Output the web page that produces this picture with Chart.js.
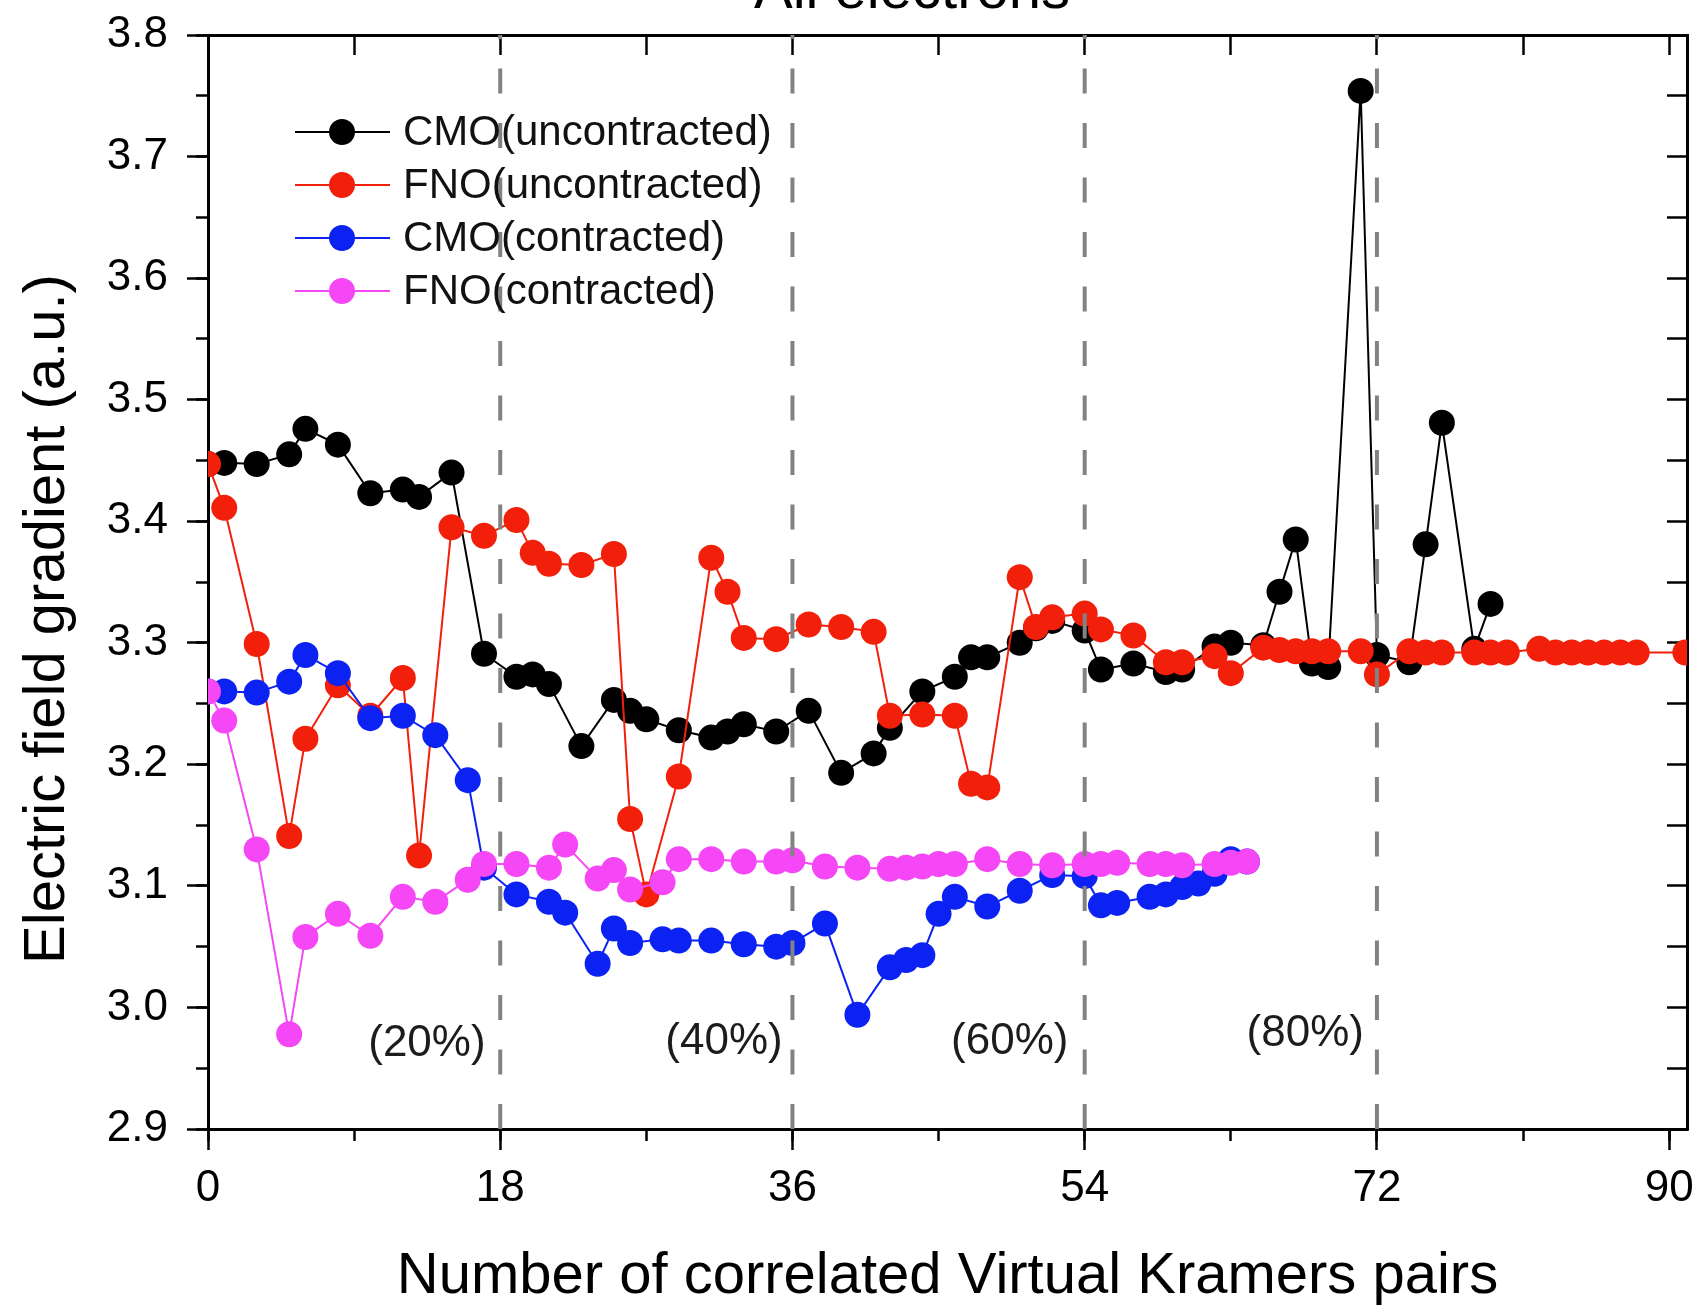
<!DOCTYPE html>
<html>
<head>
<meta charset="utf-8">
<title>Electric field gradient vs correlated virtual Kramers pairs</title>
<script src="https://cdn.jsdelivr.net/npm/chart.js@4.4.1/dist/chart.umd.min.js"></script>
<style>
  html, body { margin: 0; padding: 0; background: #fff; overflow: hidden; }
</style>
</head>
<body>
<canvas id="efg" width="1702" height="1307"></canvas>
<script>
// ---- data ----
const seriesNames = ['CMO(uncontracted)', 'FNO(uncontracted)', 'CMO(contracted)', 'FNO(contracted)'];
const seriesColors = ['#000000', '#f2200a', '#0b22f2', '#f547f5'];

const cmoUncX = [0, 1, 3, 5, 6, 8, 10, 12, 13, 15, 17, 19, 20, 21, 23, 25, 26, 27, 29, 31,
  32, 33, 35, 37, 39, 41, 42, 44, 46, 47, 48, 50, 51, 52, 54, 55, 57, 59, 60, 62,
  63, 65, 66, 67, 68, 69, 71, 72, 74, 75, 76, 78, 79];
const cmoUncY = [3.447, 3.448, 3.447, 3.455, 3.476, 3.463, 3.423, 3.426, 3.420, 3.440,
  3.291, 3.272, 3.274, 3.266, 3.215, 3.253, 3.244, 3.237, 3.228, 3.222,
  3.227, 3.233, 3.227, 3.244, 3.193, 3.209, 3.230, 3.260, 3.272, 3.288,
  3.288, 3.300, 3.312, 3.318, 3.310, 3.278, 3.283, 3.276, 3.278, 3.297,
  3.300, 3.298, 3.342, 3.385, 3.283, 3.280, 3.754, 3.290, 3.284, 3.381,
  3.481, 3.295, 3.332];

const fnoUncX = [0, 1, 3, 5, 6, 8, 10, 12, 13, 15, 17, 19, 20, 21, 23, 25, 26, 27, 29, 31,
  32, 33, 35, 37, 39, 41, 42, 44, 46, 47, 48, 50, 51, 52, 54, 55, 57, 59, 60, 62,
  63, 65, 66, 67, 68, 69, 71, 72, 74, 75, 76, 78, 79, 80, 82, 83, 84, 85, 86, 87,
  88, 91];
const fnoUncY = [3.447, 3.411, 3.299, 3.141, 3.221, 3.265, 3.240, 3.271, 3.125, 3.395,
  3.388, 3.401, 3.374, 3.365, 3.364, 3.373, 3.155, 3.093, 3.190, 3.370,
  3.342, 3.304, 3.303, 3.315, 3.313, 3.309, 3.240, 3.241, 3.240, 3.184,
  3.181, 3.354, 3.313, 3.321, 3.324, 3.311, 3.306, 3.284, 3.284, 3.289,
  3.275, 3.296, 3.294, 3.293, 3.293, 3.293, 3.293, 3.274, 3.293, 3.292,
  3.292, 3.292, 3.292, 3.292, 3.295, 3.292, 3.292, 3.292, 3.292, 3.292,
  3.292, 3.292];

const cmoConX = [0, 1, 3, 5, 6, 8, 10, 12, 14, 16, 17, 19, 21, 22, 24, 25, 26, 28, 29, 31,
  33, 35, 36, 38, 40, 42, 43, 44, 45, 46, 48, 50, 52, 54, 55, 56, 58, 59, 60, 61,
  62, 63, 64];
const cmoConY = [3.260, 3.260, 3.259, 3.268, 3.290, 3.275, 3.238, 3.240, 3.224, 3.187,
  3.115, 3.093, 3.087, 3.078, 3.036, 3.065, 3.053, 3.056, 3.055, 3.055,
  3.052, 3.050, 3.053, 3.069, 2.994, 3.033, 3.039, 3.043, 3.077, 3.091,
  3.083, 3.096, 3.109, 3.108, 3.084, 3.086, 3.091, 3.093, 3.099, 3.102,
  3.110, 3.122, 3.120];

const fnoConX = [0, 1, 3, 5, 6, 8, 10, 12, 14, 16, 17, 19, 21, 22, 24, 25, 26, 28, 29, 31,
  33, 35, 36, 38, 40, 42, 43, 44, 45, 46, 48, 50, 52, 54, 55, 56, 58, 59, 60, 62,
  63, 64];
const fnoConY = [3.260, 3.236, 3.130, 2.978, 3.058, 3.077, 3.059, 3.091, 3.087, 3.105,
  3.118, 3.118, 3.115, 3.134, 3.106, 3.113, 3.097, 3.103, 3.122, 3.122,
  3.120, 3.120, 3.121, 3.116, 3.115, 3.114, 3.115, 3.116, 3.118, 3.118,
  3.122, 3.118, 3.117, 3.118, 3.118, 3.119, 3.118, 3.118, 3.117, 3.118,
  3.119, 3.120];

// dashed markers at 20/40/60/80 % of the virtual space
const dividerX = [18, 36, 54, 72];
const percentLabels = ['(20%)', '(40%)', '(60%)', '(80%)'];
const percentLabelX = [17.1, 35.4, 53.0, 71.2];
const percentLabelY = [2.970, 2.972, 2.972, 2.978];

const xTicksMajor = 18, xTicksMinor = 9;
const yTicksMajor = 0.1, yTicksMinor = 0.05;
const X_MIN = 0, X_MAX = 91.1, Y_MIN = 2.9, Y_MAX = 3.8;

const chartTitle = 'All electrons';
const xTitle = 'Number of correlated Virtual Kramers pairs';
const yTitle = 'Electric field gradient (a.u.)';

// ---- chart ----
const FONT = '"Liberation Sans", Arial, Helvetica, sans-serif';
Chart.defaults.font.family = FONT;
Chart.defaults.color = '#000';

const toPoints = (xs, ys) => xs.map((x, i) => ({ x: x, y: ys[i] }));

const seriesData = [
  toPoints(cmoUncX, cmoUncY),
  toPoints(fnoUncX, fnoUncY),
  toPoints(cmoConX, cmoConY),
  toPoints(fnoConX, fnoConY)
];
// black at the bottom, magenta on top
const seriesOrder = [4, 3, 2, 1];

const datasets = seriesData.map((pts, i) => ({
  label: seriesNames[i],
  data: pts,
  borderColor: seriesColors[i],
  backgroundColor: seriesColors[i],
  borderWidth: 2,
  pointRadius: 13,
  pointHoverRadius: 13,
  pointBorderWidth: 0,
  pointBackgroundColor: seriesColors[i],
  tension: 0,
  order: seriesOrder[i]
}));

dividerX.forEach(v => {
  datasets.push({
    label: '',
    data: [{ x: v, y: Y_MIN }, { x: v, y: Y_MAX }],
    borderColor: '#828282',
    borderWidth: 4,
    borderDash: [25, 29.5],
    pointRadius: 0,
    order: 0
  });
});

const extras = {
  id: 'extras',
  afterDatasetsDraw(chart) {
    const { ctx, scales: { x, y } } = chart;
    ctx.save();

    // percent labels
    ctx.font = '44px ' + FONT;
    ctx.fillStyle = '#1c1c1c';
    ctx.textAlign = 'right';
    ctx.textBaseline = 'middle';
    percentLabels.forEach((t, i) => {
      ctx.fillText(t, x.getPixelForValue(percentLabelX[i]), y.getPixelForValue(percentLabelY[i]));
    });

    // legend: line through marker, like the original
    ctx.font = '42px ' + FONT;
    ctx.textAlign = 'left';
    seriesNames.forEach((name, i) => {
      const rowY = 132 + i * 53;
      ctx.strokeStyle = seriesColors[i];
      ctx.lineWidth = 2;
      ctx.beginPath();
      ctx.moveTo(295, rowY);
      ctx.lineTo(390, rowY);
      ctx.stroke();
      ctx.fillStyle = seriesColors[i];
      ctx.beginPath();
      ctx.arc(342, rowY, 13, 0, Math.PI * 2);
      ctx.fill();
      ctx.fillStyle = '#111';
      ctx.fillText(name, 403, rowY + 1);
    });
    ctx.restore();
  },
  afterDraw(chart) {
    const { ctx } = chart;
    ctx.save();
    // y axis title
    ctx.font = '58px ' + FONT;
    ctx.fillStyle = '#000';
    ctx.textAlign = 'center';
    ctx.textBaseline = 'middle';
    ctx.translate(48, 619);
    ctx.rotate(-Math.PI / 2);
    ctx.fillText(yTitle, 0, 0);
    ctx.restore();

    // title, cut off by the top edge in the original
    ctx.save();
    ctx.font = '58px ' + FONT;
    ctx.fillStyle = '#000';
    ctx.textAlign = 'center';
    ctx.textBaseline = 'alphabetic';
    ctx.fillText(chartTitle, 912, 8);
    ctx.restore();
  }
};

const tickFont = { size: 44 };
const common = { type: 'linear' };
// keep tick-label overhang from pushing the plot frame around
const noPad = s => { s.paddingTop = 0; s.paddingBottom = 0; s.paddingLeft = 0; s.paddingRight = 0; };

new Chart(document.getElementById('efg').getContext('2d'), {
  type: 'line',
  data: { datasets: datasets },
  options: {
    responsive: false,
    animation: false,
    events: [],
    layout: { padding: { top: 35, right: 15, bottom: 0, left: 0 } },
    plugins: {
      legend: { display: false },
      tooltip: { enabled: false }
    },
    scales: {
      x: {
        ...common, position: 'bottom', weight: 1, min: X_MIN, max: X_MAX,
        ticks: { stepSize: xTicksMajor, includeBounds: false, autoSkip: false, maxRotation: 0,
                 font: tickFont, color: '#000', padding: 12, callback: v => String(v) },
        grid: { drawOnChartArea: false, tickLength: 21, tickWidth: 2.5, tickColor: '#000' },
        border: { display: true, color: '#000', width: 3 },
        title: { display: true, text: xTitle, font: { size: 58, lineHeight: 1.0 }, color: '#000',
                 padding: { top: 0, bottom: 1 } },
        afterFit: s => { s.height = 178; noPad(s); }
      },
      xMinor: {
        ...common, position: 'bottom', weight: 0, min: X_MIN, max: X_MAX,
        ticks: { stepSize: xTicksMinor, includeBounds: false, autoSkip: false, display: false },
        grid: { drawOnChartArea: false, tickLength: 12, tickWidth: 2.5, tickColor: '#000' },
        border: { display: false },
        afterFit: s => { s.height = 0; noPad(s); }
      },
      xTop: {
        ...common, position: 'top', min: X_MIN, max: X_MAX,
        ticks: { stepSize: xTicksMinor, includeBounds: false, autoSkip: false, display: false },
        grid: { drawOnChartArea: false, tickLength: -20, tickWidth: 2.5, tickColor: '#000' },
        border: { display: true, color: '#000', width: 3 },
        afterFit: s => { s.height = 0; noPad(s); }
      },
      y: {
        ...common, position: 'left', weight: 1, min: Y_MIN, max: Y_MAX,
        ticks: { stepSize: yTicksMajor, includeBounds: false, autoSkip: false,
                 font: tickFont, color: '#000', padding: 19, callback: v => Number(v).toFixed(1) },
        grid: { drawOnChartArea: false, tickLength: 21, tickWidth: 2.5, tickColor: '#000' },
        border: { display: true, color: '#000', width: 3 },
        afterFit: s => { s.width = 208; noPad(s); }
      },
      yMinor: {
        ...common, position: 'left', weight: 0, min: Y_MIN, max: Y_MAX,
        ticks: { stepSize: yTicksMinor, includeBounds: false, autoSkip: false, display: false },
        grid: { drawOnChartArea: false, tickLength: 12, tickWidth: 2.5, tickColor: '#000' },
        border: { display: false },
        afterFit: s => { s.width = 0; noPad(s); }
      },
      yRight: {
        ...common, position: 'right', min: Y_MIN, max: Y_MAX,
        ticks: { stepSize: yTicksMinor, includeBounds: false, autoSkip: false, display: false },
        grid: { drawOnChartArea: false, tickLength: -20, tickWidth: 2.5, tickColor: '#000' },
        border: { display: true, color: '#000', width: 3 },
        afterFit: s => { s.width = 0; noPad(s); }
      }
    }
  },
  plugins: [extras]
});
</script>
</body>
</html>
